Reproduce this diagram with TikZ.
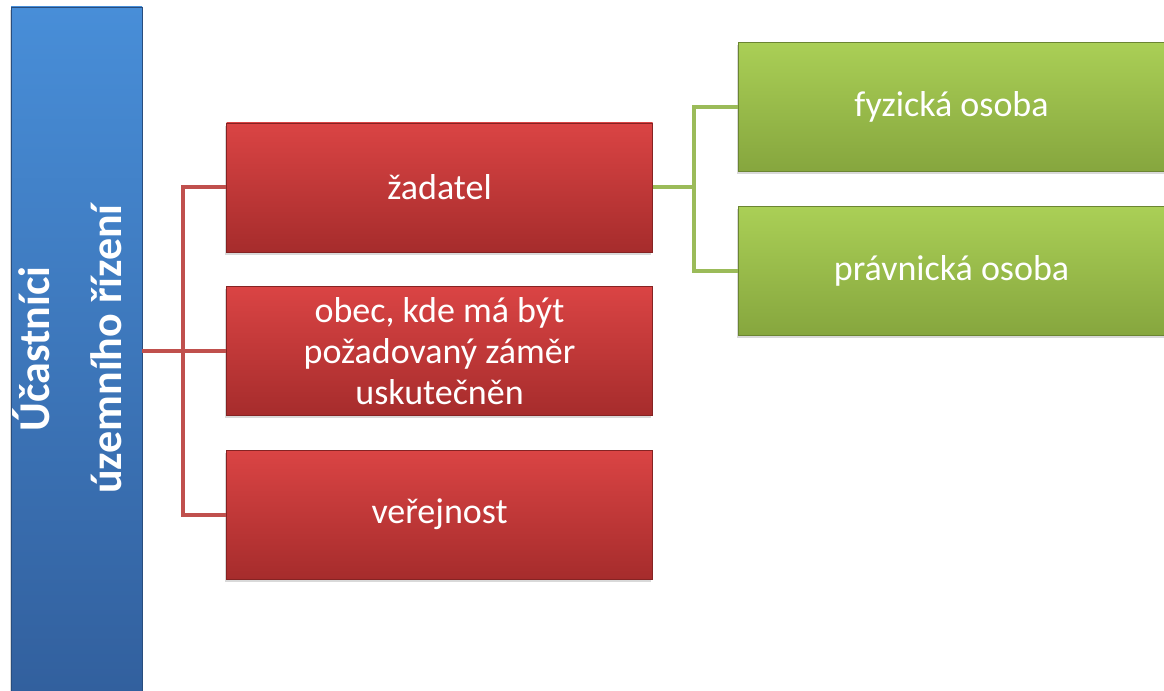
\documentclass[tikz,border=0pt]{standalone}
\usepackage{fontspec}
\setmainfont{Carlito}
\usepackage{graphicx}
\usetikzlibrary{positioning,shadows}

\definecolor{headtop}{RGB}{72,142,216}
\definecolor{headbot}{RGB}{50,96,158}
\definecolor{redtop}{RGB}{218,68,68}
\definecolor{redbot}{RGB}{166,44,44}
\definecolor{greentop}{RGB}{170,207,86}
\definecolor{greenbot}{RGB}{134,166,62}
\definecolor{redwire}{RGB}{192,80,77}
\definecolor{greenwire}{RGB}{155,187,89}

\begin{document}
\begin{tikzpicture}[
    x=0.75pt,
    y=-0.75pt,
    node distance=25.5pt,
    font=\fontsize{27}{30.75}\selectfont,
    head/.style={
		rectangle,
		top color=headtop,
		bottom color=headbot,
		draw=headbot!80!black,
		line width=0.4pt,
		minimum width=98.25pt,
		minimum height=513pt,
		drop shadow={shadow xshift=-1pt, shadow yshift=-2pt, opacity=0.3}
	},
	headtext/.style={
		text=white,
		font=\fontsize{33}{54}\selectfont\bfseries,
		inner sep=0pt
	},
	part/.style={
		rectangle,
		top color=redtop,
		bottom color=redbot,
		draw=redbot!80!black,
		line width=0.4pt,
		text=white,
		text centered,
		align=center,
		minimum width=319.5pt,
		minimum height=96.75pt,
		drop shadow={shadow xshift=-1pt, shadow yshift=-2pt, opacity=0.3}
	},
	person/.style={
		rectangle,
		top color=greentop,
		bottom color=greenbot,
		draw=greenbot!80!black,
		line width=0.4pt,
		text=white,
		text centered,
		minimum width=320.25pt,
		minimum height=96.75pt,
		drop shadow={shadow xshift=-1pt, shadow yshift=-2pt, opacity=0.3}
	},
	redlink/.style={
		draw=redwire,
		line width=3pt
	},
	greenlink/.style={
		draw=greenwire,
		line width=3pt
	}
  ]
\useasboundingbox (0,0) rectangle (1164,691);

% // The head box
 \node [head] (head) at (76.5,349) {};
 \node [headtext] (headlabel) at ([xshift=-4pt]head.center)
 {\rotatebox{90}{\begin{tabular}{c}Účastníci\\územního řízení\end{tabular}}};

% // Participants
 \node [part, anchor=west] (obec) at ([xshift=63pt, yshift=-1.5pt]head.east)
 {obec, kde má být\\požadovaný záměr\\uskutečněn};
 \node [part, above=of obec] (zadatel) {žadatel};
 \node [part, below=of obec] (verejnost) {veřejnost};

% // Persons
 \node [person, anchor=south west] (fyzicka) at ([xshift=63.75pt, yshift=12pt]zadatel.east) {fyzická osoba};
 \node [person, below=26.25pt of fyzicka] (pravnicka) {právnická osoba};

% // Links
 \coordinate (redtrunk) at ([xshift=-32.25pt]zadatel.west);
 \coordinate (greentrunk) at ([xshift=30.75pt]zadatel.east);
 \draw [redlink] (head.east |- obec.west) -- (obec.west);
 \draw [redlink] (zadatel.west) -- (redtrunk) |- (verejnost.west);
 \draw [greenlink] (zadatel.east) -- (greentrunk);
 \draw [greenlink] (fyzicka.west) -| (greentrunk) |- (pravnicka.west);

\end{tikzpicture}
\end{document}
